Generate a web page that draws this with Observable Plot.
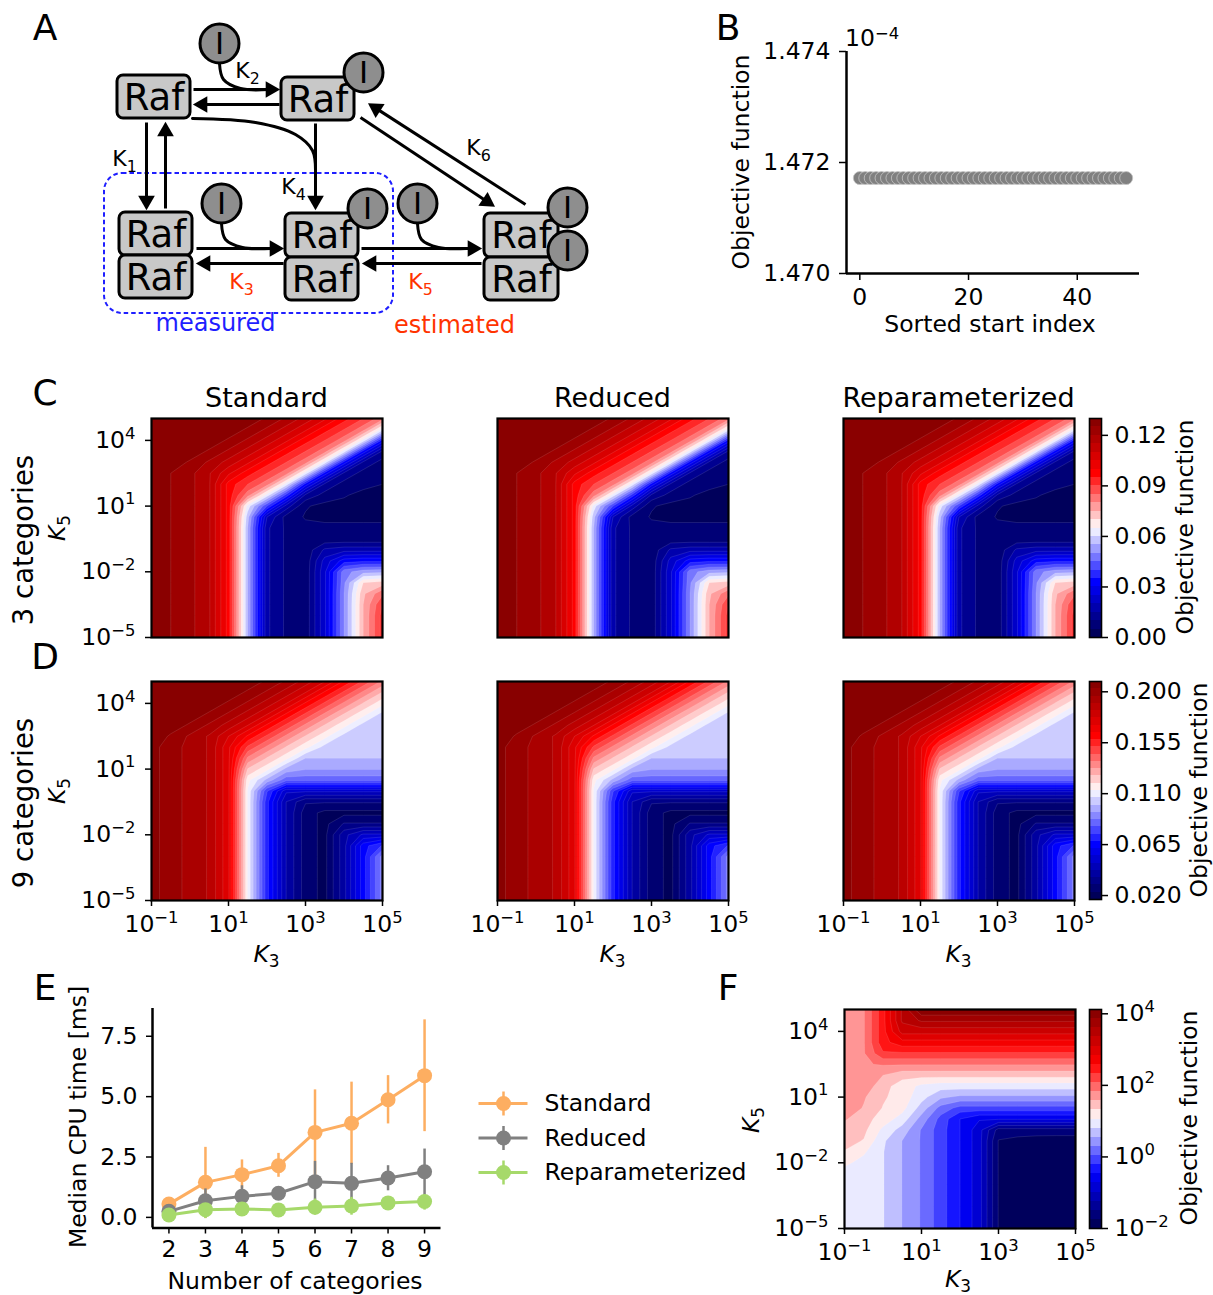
<!DOCTYPE html>
<html><head><meta charset="utf-8">
<script src="https://cdn.jsdelivr.net/npm/d3@7"></script>
<script src="https://cdn.jsdelivr.net/npm/@observablehq/plot@0.6"></script>
<style>
body{margin:0;background:#fff;}
#fig{position:relative;width:1213px;height:1295px;background:#fff;font-family:"DejaVu Sans",sans-serif;overflow:hidden;}
.lbl{position:absolute;white-space:nowrap;line-height:1;color:#000;transform-origin:50% 50%;}
.lbl sub{font-size:72%;vertical-align:-0.28em;line-height:0;font-style:normal;}
.lbl sup{font-size:70%;vertical-align:0.45em;line-height:0;}
</style></head><body><div id="fig"></div><script>
// ================= DATA =================
// Panel A: network diagram (diagram layout units)
const rafNodes = [
  [117,75,190,118],[281,77,354,120],
  [119,212,192,255],[119,255,192,298],
  [285,213,358,257],[285,257,358,300],
  [484,213,558,257],[484,257,558,300]];
const nodeText = "Raf";
const inhibitors = [[219,43],[363,72],[221,203],[367,208],[417,203],[567,207],[567,250]];
const inhibitorText = "I";
const reactions = [
  [193,89,279,89],[279,104,193,104],
  [146,122,146,209],[165,208,165,122],
  [315,123,315,209],
  [360,117,494,206],[525,204,368,103],
  [196,248,283,248],[283,263,196,263],
  [361,248,481,248],[481,263,362,263]];
const bindingCurves = [
  [[219,63],[223,79],[240,88],[268,89]],
  [[221,223],[225,239],[242,247],[270,248]],
  [[417,223],[421,239],[438,247],[466,248]],
  [[192,118],[255,122],[295,134],[312,150],[315,172]]];
const rateNames = ["K_1","K_2","K_4","K_6","K_3","K_5"];
const rateAt = [[124,158],[247,70],[293,186],[478,147],[241,281],[420,281]];
const rateEstimated = [false,false,false,false,true,true];
const measuredBox = [104,173,393,313];
const groupNames = ["measured","estimated"];
const groupAt = [[215,323],[454,325]];

// Panel B: multistart objective values (x 1e-4)
const bIndex = [0,1,2,3,4,5,6,7,8,9,10,11,12,13,14,15,16,17,18,19,20,21,22,23,24,25,26,27,28,29,30,31,32,33,34,35,36,37,38,39,40,41,42,43,44,45,46,47,48,49];
const bObjective = [1.47172,1.47172,1.47172,1.47172,1.47172,1.47172,1.47172,1.47172,1.47172,1.47172,1.47172,1.47172,1.47172,1.47172,1.47172,1.47172,1.47172,1.47172,1.47172,1.47172,1.47172,1.47172,1.47172,1.47172,1.47172,1.47172,1.47172,1.47172,1.47172,1.47172,1.47172,1.47172,1.47172,1.47172,1.47172,1.47172,1.47172,1.47172,1.47172,1.47172,1.47172,1.47172,1.47172,1.47172,1.47172,1.47172,1.47172,1.47172,1.47172,1.47172];
const bXTicks = [0,20,40];
const bYTicks = [1.470,1.472,1.474];

// Heatmaps: grid of log10(K3) (columns) x log10(K5) (rows, top to bottom)
const gridU = [-1,-0.5,0,0.5,1,1.5,2,2.5,3,3.5,4,4.5,5];
const gridV = [5,4.5,4,3.5,3,2.5,2,1.5,1,0.5,0,-0.5,-1,-1.5,-2,-2.5,-3,-3.5,-4,-4.5,-5];
const k3Ticks = [-1,1,3,5];
const k5Ticks = [-5,-2,1,4];
const methods = ["Standard","Reduced","Reparameterized"];

// C: 3 categories objective function
const obj3 = [
 [.129,.129,.129,.129,.129,.127,.1245,.119,.113,.106,.097,.090,.082],
 [.129,.129,.129,.129,.127,.1245,.119,.113,.106,.097,.090,.082,.063],
 [.129,.129,.129,.127,.1245,.119,.113,.106,.097,.090,.082,.063,.033],
 [.129,.129,.127,.1245,.119,.113,.106,.097,.090,.082,.063,.033,.014],
 [.129,.127,.1245,.119,.113,.106,.097,.090,.082,.063,.033,.014,.008],
 [.129,.125,.1215,.1155,.106,.097,.090,.082,.063,.033,.014,.008,.0065],
 [.129,.125,.1215,.1155,.098,.090,.082,.063,.033,.014,.008,.0065,.005],
 [.129,.125,.1215,.1155,.098,.082,.063,.038,.014,.008,.0055,.0035,.0035],
 [.129,.125,.1215,.1155,.098,.063,.040,.018,.0055,.0035,.0035,.0035,.0035],
 [.129,.125,.1215,.1155,.098,.057,.020,.008,.0045,.0035,.0035,.0035,.0035],
 [.129,.125,.1215,.1155,.098,.055,.016,.009,.0065,.0065,.0065,.0065,.0065],
 [.129,.125,.1215,.1155,.098,.055,.016,.009,.0065,.0065,.0065,.0065,.0065],
 [.129,.125,.1215,.1155,.098,.055,.016,.009,.0065,.016,.018,.018,.018],
 [.129,.125,.1215,.1155,.098,.055,.016,.009,.0065,.022,.0325,.034,.034],
 [.129,.125,.1215,.1155,.098,.055,.016,.009,.0065,.024,.048,.053,.054],
 [.129,.125,.1215,.1155,.098,.055,.016,.009,.0065,.024,.049,.070,.072],
 [.129,.125,.1215,.1155,.098,.055,.016,.009,.0065,.024,.050,.074,.084],
 [.129,.125,.1215,.1155,.098,.055,.016,.009,.0065,.024,.050,.075,.090],
 [.129,.125,.1215,.1155,.098,.055,.016,.009,.0065,.024,.050,.075,.092],
 [.129,.125,.1215,.1155,.098,.055,.016,.009,.0065,.024,.050,.075,.092],
 [.129,.125,.1215,.1155,.098,.055,.016,.009,.0065,.024,.050,.075,.092]];
// D: 9 categories objective function
const obj9 = [
 [.207,.207,.207,.207,.207,.205,.202,.195,.187,.177,.163,.150,.137],
 [.207,.207,.207,.207,.205,.202,.195,.187,.177,.163,.150,.137,.125],
 [.207,.207,.207,.205,.202,.195,.187,.177,.163,.150,.137,.125,.115],
 [.207,.207,.205,.202,.195,.187,.177,.163,.150,.137,.125,.115,.104],
 [.207,.205,.202,.195,.187,.177,.163,.150,.137,.125,.115,.104,.104],
 [.206,.202,.195,.189,.177,.163,.150,.137,.125,.115,.104,.104,.104],
 [.206,.198,.195,.189,.172,.150,.137,.125,.115,.104,.104,.104,.104],
 [.206,.198,.195,.189,.172,.137,.125,.115,.100,.100,.100,.100,.100],
 [.206,.198,.195,.189,.172,.125,.115,.098,.094,.094,.094,.094,.094],
 [.206,.198,.195,.189,.172,.115,.098,.083,.083,.083,.083,.083,.083],
 [.206,.198,.195,.189,.172,.112,.075,.050,.050,.050,.050,.050,.050],
 [.206,.198,.195,.189,.172,.112,.070,.042,.030,.030,.030,.030,.030],
 [.206,.198,.195,.189,.172,.112,.070,.042,.026,.021,.021,.021,.021],
 [.206,.198,.195,.189,.172,.112,.070,.042,.026,.021,.030,.030,.030],
 [.206,.198,.195,.189,.172,.112,.070,.042,.026,.021,.040,.050,.050],
 [.206,.198,.195,.189,.172,.112,.070,.042,.026,.021,.040,.065,.075],
 [.206,.198,.195,.189,.172,.112,.070,.042,.026,.021,.040,.065,.090],
 [.206,.198,.195,.189,.172,.112,.070,.042,.026,.021,.040,.065,.090],
 [.206,.198,.195,.189,.172,.112,.070,.042,.026,.021,.040,.065,.090],
 [.206,.198,.195,.189,.172,.112,.070,.042,.026,.021,.040,.065,.090],
 [.206,.198,.195,.189,.172,.112,.070,.042,.026,.021,.040,.065,.090]];
// F: log10 objective function
const objLogF = [
 [1.75,1.80,2.50,3.40,4.10,4.10,4.10,4.10,4.10,4.10,4.10,4.10,4.10],
 [1.75,1.80,2.50,3.40,3.65,3.65,3.65,3.65,3.65,3.65,3.65,3.65,3.65],
 [1.75,1.80,2.50,3.20,3.20,3.20,3.20,3.20,3.20,3.20,3.20,3.20,3.20],
 [1.75,1.80,2.50,2.75,2.75,2.75,2.75,2.75,2.75,2.75,2.75,2.75,2.75],
 [1.75,1.80,2.30,2.30,2.30,2.30,2.30,2.30,2.30,2.30,2.30,2.30,2.30],
 [1.75,1.80,1.85,1.85,1.85,1.85,1.85,1.85,1.85,1.85,1.85,1.85,1.85],
 [1.75,1.75,1.57,1.40,1.40,1.40,1.40,1.40,1.40,1.40,1.40,1.40,1.40],
 [1.75,1.75,1.40,1.20,1.00,0.92,0.92,0.92,0.92,0.92,0.92,0.92,0.92],
 [1.75,1.60,1.35,1.20,0.90,0.60,0.50,0.50,0.50,0.50,0.50,0.50,0.50],
 [1.75,1.55,1.30,1.15,0.70,0.20,-0.05,-0.05,-0.05,-0.05,-0.05,-0.05,-0.05],
 [1.60,1.42,1.20,0.95,0.45,-0.05,-0.47,-0.70,-0.70,-0.70,-0.70,-0.70,-0.70],
 [1.45,1.38,1.00,0.70,0.27,-0.10,-0.47,-0.88,-1.60,-1.60,-1.60,-1.60,-1.60],
 [1.40,1.30,0.85,0.545,0.27,-0.10,-0.47,-0.88,-1.76,-1.83,-1.87,-1.88,-1.88],
 [1.30,1.10,0.82,0.545,0.27,-0.10,-0.47,-0.88,-1.76,-1.83,-1.87,-1.92,-1.92],
 [1.12,0.97,0.82,0.545,0.27,-0.10,-0.47,-0.88,-1.76,-1.83,-1.87,-1.92,-1.95],
 [0.95,0.93,0.82,0.545,0.27,-0.10,-0.47,-0.88,-1.76,-1.83,-1.87,-1.92,-1.96],
 [0.95,0.93,0.82,0.545,0.27,-0.10,-0.47,-0.88,-1.76,-1.83,-1.87,-1.92,-1.96],
 [0.95,0.93,0.82,0.545,0.27,-0.10,-0.47,-0.88,-1.76,-1.83,-1.87,-1.92,-1.96],
 [0.95,0.93,0.82,0.545,0.27,-0.10,-0.47,-0.88,-1.76,-1.83,-1.87,-1.92,-1.96],
 [0.95,0.93,0.82,0.545,0.27,-0.10,-0.47,-0.88,-1.76,-1.83,-1.87,-1.92,-1.96],
 [0.95,0.93,0.82,0.545,0.27,-0.10,-0.47,-0.88,-1.76,-1.83,-1.87,-1.92,-1.96]];
// contour level settings: lowest level, level step, number of levels, colorbar ticks
const levels3 = {lo: 0, step: 0.005, n: 26, ticks: [0,0.03,0.06,0.09,0.12], fmt: ".2f"};
const levels9 = {lo: 0.0165, step: 0.00642, n: 30, ticks: [0.02,0.065,0.11,0.155,0.2], fmt: ".3f"};
const levelsF = {lo: -2, step: 0.255, n: 24, ticks: [-2,0,2,4], fmt: "pow"};

// Panel E: median CPU time [ms]
const categories = [2,3,4,5,6,7,8,9];
const stdMedian = [0.55,1.45,1.77,2.14,3.52,3.90,4.87,5.87];
const stdLow    = [0.45,-0.05,1.18,1.66,1.40,2.20,3.87,3.55];
const stdHigh   = [0.65,2.90,2.38,2.65,5.28,5.60,5.87,8.18];
const redMedian = [0.25,0.69,0.87,1.00,1.48,1.41,1.63,1.89];
const redLow    = [0.15,0.28,0.56,0.70,0.56,0.43,1.10,0.70];
const redHigh   = [0.35,1.18,1.31,1.24,2.32,2.24,2.14,2.83];
const repMedian = [0.10,0.32,0.35,0.31,0.42,0.47,0.60,0.66];
const repLow    = [0.00,-0.05,0.20,0.20,0.09,0.09,0.45,0.30];
const repHigh   = [0.20,0.55,0.50,0.45,0.76,0.83,0.75,0.93];
const eYTicks = [0,2.5,5,7.5];

// ================= HELPERS =================
const fig = document.getElementById("fig");
const FONT = "DejaVu Sans";
const FS = 23.5;
const SVGNS = "http://www.w3.org/2000/svg";
const pow10 = d => "10^" + String(d).replace("-", "\u2212");
// turn "a^b" into superscript and "a_b" into subscript tspans
function richText(svg, fs) {
  svg.querySelectorAll("text").forEach(t => {
    if (t.querySelector("tspan")) return;
    const s = t.textContent;
    let m, shift, scale;
    if ((m = s.match(/^([^^_]*)\^(.+)$/))) { shift = -0.40; scale = 0.70; }
    else if ((m = s.match(/^([^^_]*)_(.+)$/))) { shift = 0.30; scale = 0.72; }
    else return;
    const size = fs || parseFloat(getComputedStyle(t).fontSize) || FS;
    t.textContent = m[1];
    const ts = document.createElementNS(SVGNS, "tspan");
    ts.setAttribute("font-size", (size * scale).toFixed(2) + "px");
    ts.setAttribute("dy", (size * shift).toFixed(2) + "px");
    ts.textContent = m[2];
    t.appendChild(ts);
  });
}
function place(el, left, top) {
  el.style.position = "absolute"; el.style.left = left + "px"; el.style.top = top + "px"; el.style.maxWidth = "none";
  fig.appendChild(el); richText(el); return el;
}
function label(html, x, y, {size = FS, rot = 0, color = "#000", anchor = "middle"} = {}) {
  const d = document.createElement("div");
  d.className = "lbl"; d.innerHTML = html;
  d.style.fontSize = size + "px"; d.style.color = color;
  d.style.left = x + "px"; d.style.top = y + "px";
  const tx = anchor === "middle" ? "-50%" : anchor === "end" ? "-100%" : "0%";
  d.style.transform = `translate(${tx},-50%) rotate(${rot}deg)`;
  fig.appendChild(d);
}
const baseStyle = {fontFamily: FONT, fontSize: FS + "px", background: "none", overflow: "visible", color: "#000"};
const seismic = ["#00004d","#0000ff","#ffffff","#ff0000","#800000"];
function seismicScale(L) {
  const a = L.lo - L.step / 2, r = L.n * L.step;
  return {type: "linear", domain: [0, .25, .5, .75, 1].map(t => a + t * r), range: seismic, clamp: true};
}
const FW = 231, FH = 219;

function heatmap(grid, L, fx, fy, showX, showY) {
  const mL = 90, mR = 5, mT = 5, mB = 45;
  const thr = d3.range(L.n).map(k => L.lo + k * L.step);
  const du = (gridU[1] - gridU[0]) / 2, dv = (gridV[0] - gridV[1]) / 2;
  const common = {width: gridU.length, height: gridV.length,
    x1: gridU[0] - du, x2: gridU[gridU.length - 1] + du,
    y1: gridV[0] + dv, y2: gridV[gridV.length - 1] - dv, clip: true};
  const flat = grid.flat();
  const marks = [
    Plot.contour(flat, {...common, fill: Plot.identity, thresholds: thr}),
    Plot.contour(flat, {...common, value: Plot.identity, thresholds: thr.slice(1), stroke: "#ffffff", strokeOpacity: 0.16, strokeWidth: 0.7}),
    Plot.frame({stroke: "#000", strokeWidth: 2.2})
  ];
  if (showX) marks.push(Plot.axisX({ticks: k3Ticks, tickFormat: pow10, tickSize: 6, tickPadding: 9, strokeWidth: 1.5, label: null}));
  if (showY) marks.push(Plot.axisY({ticks: k5Ticks, tickFormat: pow10, tickSize: 6, tickPadding: 10, strokeWidth: 1.5, label: null}));
  const svg = Plot.plot({
    width: mL + FW + mR, height: mT + FH + mB,
    marginLeft: mL, marginRight: mR, marginTop: mT, marginBottom: mB,
    style: baseStyle,
    x: {domain: [k3Ticks[0], k3Ticks[k3Ticks.length - 1]], axis: null},
    y: {domain: [k5Ticks[0], gridV[0]], axis: null},
    color: seismicScale(L),
    marks
  });
  place(svg, fx - mL, fy - mT);
}
function colorbar(L, fx, fy, fh) {
  const mL = 2, mR = 120, mT = 5, mB = 15, fw = 12;
  const thr = d3.range(L.n).map(k => L.lo + k * L.step);
  const fmt = L.fmt === "pow" ? pow10 : d3.format(L.fmt);
  const svg = Plot.plot({
    width: mL + fw + mR, height: mT + fh + mB,
    marginLeft: mL, marginRight: mR, marginTop: mT, marginBottom: mB,
    style: baseStyle,
    x: {domain: [0, 1], axis: null},
    y: {domain: [L.lo, L.lo + L.n * L.step], axis: null},
    color: seismicScale(L),
    marks: [
      Plot.rect(thr, {x1: 0, x2: 1, y1: d => d, y2: d => d + L.step, fill: d => d, shapeRendering: "crispEdges"}),
      Plot.frame({stroke: "#000", strokeWidth: 1.6}),
      Plot.axisY({anchor: "right", ticks: L.ticks, tickFormat: fmt, tickSize: 6, tickPadding: 7, strokeWidth: 1.5, label: null})
    ]
  });
  place(svg, fx - mL, fy - mT);
}

// ================= PANEL A =================
(function () {
  const W = 600, H = 345;
  const headBack = 9;
  const heads = reactions.map(([x1, y1, x2, y2]) => {
    const a = Math.atan2(y2 - y1, x2 - x1);
    return {x: x2 - headBack * Math.cos(a), y: y2 - headBack * Math.sin(a), x0: x1, y0: y1, rot: a * 180 / Math.PI + 90};
  });
  const curvePts = bindingCurves.flatMap((pts, k) => pts.map(p => ({x: p[0], y: p[1], k})));
  const rates = rateNames.map((t, i) => ({t, x: rateAt[i][0], y: rateAt[i][1], est: rateEstimated[i]}));
  const groups = groupNames.map((t, i) => ({t, x: groupAt[i][0], y: groupAt[i][1], i}));
  const svg = Plot.plot({
    width: W, height: H, margin: 0, style: baseStyle,
    x: {domain: [0, W], axis: null}, y: {domain: [0, H], range: [0, H], axis: null},
    marks: [
      Plot.rect([measuredBox], {x1: d => d[0], y1: d => d[1], x2: d => d[2], y2: d => d[3], rx: 18, fill: "none", stroke: "#1f1fff", strokeWidth: 2, strokeDasharray: "4.5,3"}),
      Plot.link(heads, {x1: "x0", y1: "y0", x2: "x", y2: "y", stroke: "#000", strokeWidth: 3}),
      Plot.dot(heads, {x: "x", y: "y", symbol: "triangle", r: 6.2, rotate: "rot", fill: "#000", stroke: "none"}),
      Plot.line(curvePts, {x: "x", y: "y", z: "k", curve: "catmull-rom", stroke: "#000", strokeWidth: 3}),
      Plot.rect(rafNodes, {x1: d => d[0], y1: d => d[1], x2: d => d[2], y2: d => d[3], rx: 6, fill: "#c8c8c8", stroke: "#000", strokeWidth: 3}),
      Plot.text(rafNodes, {x: d => (d[0] + d[2]) / 2, y: d => (d[1] + d[3]) / 2 + 1, text: () => nodeText, fontSize: 37, fill: "#000"}),
      Plot.dot(inhibitors, {x: d => d[0], y: d => d[1], r: 19.5, fill: "#8e8e8e", stroke: "#000", strokeWidth: 3}),
      Plot.text(inhibitors, {x: d => d[0], y: d => d[1] + 1, text: () => inhibitorText, fontSize: 31, fill: "#000"}),
      Plot.text(rates, {x: "x", y: "y", text: "t", fontSize: 22, fill: d => d.est ? "#ff3300" : "#000"}),
      Plot.text(groups, {x: "x", y: "y", text: "t", fontSize: 24, fill: d => d.i === 0 ? "#1f1fff" : "#ff3300"})
    ]
  });
  place(svg, 0, 0);
})();

// ================= PANEL B =================
(function () {
  const fx = 846, fy = 51, fw = 293, fh = 222, mL = 110, mR = 10, mT = 10, mB = 40;
  const xd = [-2.45, 51.45], yd = [bYTicks[0], bYTicks[bYTicks.length - 1]];
  const pts = bIndex.map((x, i) => ({x, y: bObjective[i]}));
  const svg = Plot.plot({
    width: mL + fw + mR, height: mT + fh + mB, marginLeft: mL, marginRight: mR, marginTop: mT, marginBottom: mB,
    style: baseStyle,
    x: {domain: xd, axis: null}, y: {domain: yd, axis: null},
    marks: [
      Plot.ruleX([xd[0]], {stroke: "#000", strokeWidth: 2.5}),
      Plot.ruleY([yd[0]], {stroke: "#000", strokeWidth: 2.5}),
      Plot.axisX({ticks: bXTicks, tickSize: 7, tickPadding: 8, strokeWidth: 1.5, label: null}),
      Plot.axisY({ticks: bYTicks, tickFormat: d3.format(".3f"), tickSize: 7, tickPadding: 9, strokeWidth: 1.5, label: null}),
      Plot.dot(pts, {x: "x", y: "y", r: 6.5, fill: "#808080", stroke: "#c4c4c4", strokeWidth: 0.8})
    ]
  });
  place(svg, fx - mL, fy - mT);
})();

// ================= PANELS C, D =================
const colX = [151, 497, 843];
methods.forEach((m, i) => {
  heatmap(obj3, levels3, colX[i], 418, false, i === 0);
  heatmap(obj9, levels9, colX[i], 681, true, i === 0);
});
colorbar(levels3, 1089, 418, 219);
colorbar(levels9, 1089, 681, 218);

// ================= PANEL F =================
heatmap(objLogF, levelsF, 844, 1009, true, true);
colorbar(levelsF, 1089, 1009, 219);

// ================= PANEL E =================
const eSeries = [
  {name: methods[0], med: stdMedian, lo: stdLow, hi: stdHigh},
  {name: methods[1], med: redMedian, lo: redLow, hi: redHigh},
  {name: methods[2], med: repMedian, lo: repLow, hi: repHigh}];
const eColors = ["#fdae61", "#808080", "#a6d96a"];
(function () {
  const fx = 151.5, fy = 1008, fw = 288.5, fh = 219.5, mL = 90, mR = 10, mT = 10, mB = 45;
  const xd = [1.55, 9.45], yd = [-0.44, 8.65];
  const marks = [
    Plot.ruleX([xd[0]], {stroke: "#000", strokeWidth: 2.5}),
    Plot.ruleY([yd[0]], {stroke: "#000", strokeWidth: 2.5}),
    Plot.axisX({ticks: categories, tickSize: 6, tickPadding: 6, strokeWidth: 1.5, label: null}),
    Plot.axisY({ticks: eYTicks, tickFormat: d3.format(".1f"), tickSize: 6, tickPadding: 9, strokeWidth: 1.5, label: null})
  ];
  eSeries.forEach((s, j) => {
    const rows = categories.map((c, i) => ({c, m: s.med[i], lo: s.lo[i], hi: s.hi[i]}));
    marks.push(
      Plot.ruleX(rows, {x: "c", y1: "lo", y2: "hi", stroke: eColors[j], strokeWidth: 2.5}),
      Plot.line(rows, {x: "c", y: "m", stroke: eColors[j], strokeWidth: 3}),
      Plot.dot(rows, {x: "c", y: "m", r: 7.5, fill: eColors[j], stroke: "none"}));
  });
  const svg = Plot.plot({
    width: mL + fw + mR, height: mT + fh + mB, marginLeft: mL, marginRight: mR, marginTop: mT, marginBottom: mB,
    style: baseStyle, x: {domain: xd, axis: null}, y: {domain: yd, axis: null}, marks
  });
  place(svg, fx - mL, fy - mT);
  // legend
  const LW = 290, LH = 110;
  const items = eSeries.map((s, j) => ({name: s.name, j, y: 18 + j * 34.5}));
  const leg = Plot.plot({
    width: LW, height: LH, margin: 0, style: baseStyle,
    x: {domain: [0, LW], axis: null}, y: {domain: [0, LH], range: [0, LH], axis: null},
    marks: [
      Plot.link(items, {x1: 8, x2: 57, y1: "y", y2: "y", stroke: d => eColors[d.j], strokeWidth: 3}),
      Plot.link(items, {x1: 33, x2: 33, y1: d => d.y - 12, y2: d => d.y + 12, stroke: d => eColors[d.j], strokeWidth: 2.5}),
      Plot.dot(items, {x: 33, y: "y", r: 7.5, fill: d => eColors[d.j], stroke: "none"}),
      Plot.text(items, {x: 74, y: "y", text: "name", textAnchor: "start", fontSize: FS, fill: "#000"})
    ]
  });
  place(leg, 470, 1085);
})();

// ================= TEXT LABELS =================
[["A",45,28],["B",728,28],["C",45,393],["D",45,657],["E",45,988],["F",728,988]].forEach(([t,x,y]) => label(t, x, y, {size: 36}));
methods.forEach((m, i) => label(m, colX[i] + FW / 2, 397, {size: 27}));
label("3 categories", 24, 540, {size: 27.5, rot: -90});
label("9 categories", 24, 803, {size: 27.5, rot: -90});
const K3 = "<i>K</i><sub>3</sub>", K5 = "<i>K</i><sub>5</sub>";
label(K5, 58, 528, {rot: -90});
label(K5, 58, 791, {rot: -90});
label(K5, 752, 1120, {rot: -90});
colX.forEach(x => label(K3, x + FW / 2, 955));
label(K3, 958, 1280);
label("Objective function", 1186, 527, {rot: -90});
label("Objective function", 1200, 790, {rot: -90});
label("Objective function", 1190, 1118, {rot: -90});
label("Objective function", 742, 162, {rot: -90});
label("Sorted start index", 990, 325);
label("10<sup>\u22124</sup>", 845, 39, {anchor: "start"});
label("Median CPU time [ms]", 79, 1117, {rot: -90});
label("Number of categories", 295, 1282);
</script></body></html>
